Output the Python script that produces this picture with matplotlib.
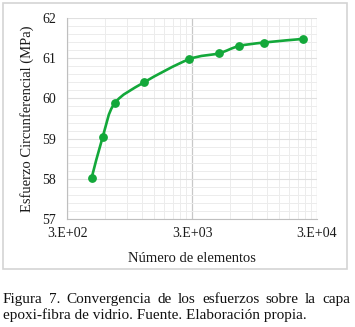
import numpy as np
import matplotlib.pyplot as plt
from matplotlib.path import Path
from matplotlib.patches import PathPatch, Rectangle
from matplotlib.ticker import FixedLocator, FixedFormatter, MultipleLocator, NullFormatter

plt.rcParams['font.family'] = ['Liberation Serif', 'DejaVu Serif']

# numero de elementos vs esfuerzo circunferencial
elementos = [472, 578, 721, 1239, 2820, 4900, 7085, 11300, 23200]
esfuerzo = [58.03, 59.04, 59.88, 60.40, 60.97, 61.12, 61.30, 61.39, 61.48]

xticks = [300, 3000, 30000]
xticklabels = ['3.E+02', '3.E+03', '3.E+04']
verde = '#13a83a'

fig = plt.figure(figsize=(3.55, 3.27), dpi=100)
ax = fig.add_axes([0.189, 0.330, 0.704, 0.615])
ax.set_xscale('log')
ax.set_xlim(300, 30000)
ax.set_ylim(57, 62)

# grid like excel
minors = [300 * k for k in range(2, 10)] + [3000 * k for k in range(2, 10)]
ax.xaxis.set_major_locator(FixedLocator(xticks))
ax.xaxis.set_major_formatter(FixedFormatter(xticklabels))
ax.xaxis.set_minor_locator(FixedLocator(minors))
ax.xaxis.set_minor_formatter(NullFormatter())
ax.yaxis.set_major_locator(MultipleLocator(1))
ax.yaxis.set_minor_locator(MultipleLocator(0.2))
ax.grid(which='minor', color='#ececec', lw=0.7)
ax.grid(which='major', axis='y', color='#e0e0e0', lw=0.8)
ax.grid(which='major', axis='x', color='#c8c8c8', lw=0.9)
ax.tick_params(which='both', length=0, labelsize=10, colors='#1a1a1a')
ax.tick_params(axis='x', pad=6)
ax.tick_params(axis='y', pad=8)
for s in ['top', 'right']:
    ax.spines[s].set_visible(False)
for s in ['left', 'bottom']:
    ax.spines[s].set_color('#bfbfbf')
    ax.spines[s].set_linewidth(0.8)
ax.set_axisbelow(True)

# smooth line (catmull-rom -> bezier, in log space)
u = np.log10(elementos)
v = np.array(esfuerzo)
pts = np.column_stack([u, v])
verts = [pts[0]]
codes = [Path.MOVETO]
n = len(pts)
for i in range(n - 1):
    p0 = pts[max(i - 1, 0)]
    p1 = pts[i]
    p2 = pts[i + 1]
    p3 = pts[min(i + 2, n - 1)]
    c1 = p1 + (p2 - p0) / 6
    c2 = p2 - (p3 - p1) / 6
    verts += [c1, c2, p2]
    codes += [Path.CURVE4] * 3
verts = np.array(verts)
verts[:, 0] = 10 ** verts[:, 0]
ax.add_patch(PathPatch(Path(verts, codes), fill=False, edgecolor=verde, lw=1.9))
ax.plot(elementos, esfuerzo, 'o', color=verde, ms=5.3, zorder=3)

ax.set_xlabel('Número de elementos', fontsize=10.5, labelpad=8, color='#1a1a1a')
ax.set_ylabel('Esfuerzo Circunferencial (MPa)', fontsize=10.5, labelpad=6, color='#1a1a1a')

fig.patches.append(Rectangle((3 / 355, 1 - 269 / 327), 344 / 355, 266 / 327,
                             transform=fig.transFigure, fill=False,
                             edgecolor='#d4d4d4', lw=1.2))

# caption, first line justified
linea1 = 'Figura 7. Convergencia de los esfuerzos sobre la capa'.split()
linea2 = 'epoxi-fibra de vidrio. Fuente. Elaboración propia.'
x0, x1 = 3, 350
y1 = 327 - 303
fig.canvas.draw()
r = fig.canvas.get_renderer()
objs = [fig.text(0, 0, w, fontsize=11, color='#111111', transform=None) for w in linea1]
widths = [t.get_window_extent(r).width for t in objs]
gap = (x1 - x0 - sum(widths)) / (len(linea1) - 1)
x = x0
for t, w in zip(objs, widths):
    t.set_position((x, y1))
    x += w + gap
fig.text(x0, 327 - 319, linea2, fontsize=11, color='#111111', transform=None)

fig.savefig('out.png', dpi=100)
